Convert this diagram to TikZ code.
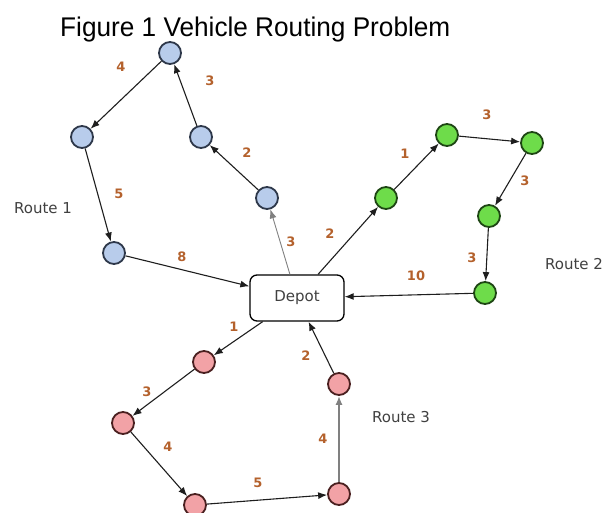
\documentclass[tikz,border=0pt]{standalone}
\usepackage{fontspec}
\setmainfont{DejaVu Sans}
\newfontfamily\titlefont{Liberation Sans}
\usepackage{tikz}
\usetikzlibrary{arrows.meta,shapes.geometric}
\tikzset{every node/.append style={align=center}}
\definecolor{bluefill}{RGB}{184, 204, 235}
\definecolor{blueline}{RGB}{46, 56, 74}
\definecolor{greenfill}{RGB}{110, 220, 74}
\definecolor{greenline}{RGB}{30, 70, 20}
\definecolor{redfill}{RGB}{242, 162, 166}
\definecolor{redline}{RGB}{74, 32, 32}
\definecolor{costcolor}{RGB}{180, 97, 44}
\definecolor{textgray}{RGB}{64, 64, 64}
\definecolor{edgecolor}{RGB}{30, 30, 30}

\begin{document}
\begin{tikzpicture}[
    x=1pt, y=-1pt,
    stop/.style={circle, draw, line width=1.8pt, minimum size=22pt, inner sep=0pt},
    bluestop/.style={stop, fill=bluefill, draw=blueline},
    greenstop/.style={stop, fill=greenfill, draw=greenline},
    redstop/.style={stop, fill=redfill, draw=redline},
    depot/.style={draw, fill=white, rounded corners=7pt, line width=1.3pt, minimum width=94pt, minimum height=46pt, font=\fontsize{15}{18}\selectfont, text=textgray},
    route/.style={-{Latex[length=9pt, width=7pt]}, line width=1.1pt, draw=edgecolor},
    cost/.style={font=\bfseries\fontsize{13}{15}\selectfont, text=costcolor, inner sep=0pt},
    routename/.style={font=\fontsize{15}{18}\selectfont, text=textgray, inner sep=0pt}
]
    \useasboundingbox (0, 0) rectangle (603, 513);

    % Title
    \node[anchor=base west, inner sep=0pt, font=\titlefont\fontsize{27}{30}\selectfont] (title) at (60, 37) {\scalebox{0.97}[1]{Figure 1 Vehicle Routing Problem}};

    % Depot
    \node[depot] (depot) at (297, 298) {Depot};

    % Route 1 stops
    \node[bluestop] (b1) at (170, 53) {};
    \node[bluestop] (b2) at (82, 137) {};
    \node[bluestop] (b3) at (114, 253) {};
    \node[bluestop] (b4) at (201, 137) {};
    \node[bluestop] (b5) at (267, 198) {};

    % Route 2 stops
    \node[greenstop] (g1) at (386, 198) {};
    \node[greenstop] (g2) at (447, 135) {};
    \node[greenstop] (g3) at (532, 143) {};
    \node[greenstop] (g4) at (489, 216) {};
    \node[greenstop] (g5) at (485, 293) {};

    % Route 3 stops
    \node[redstop] (r1) at (204, 362) {};
    \node[redstop] (r2) at (123, 423) {};
    \node[redstop] (r3) at (195, 505) {};
    \node[redstop] (r4) at (339, 494) {};
    \node[redstop] (r5) at (339, 384) {};

    % Route names
    \node[routename] (route1) at (43, 208) {Route 1};
    \node[routename] (route2) at (574, 264) {Route 2};
    \node[routename] (route3) at (401, 417) {Route 3};

    % Route 1
    \draw[route, draw=gray, line width=0.9pt] (depot) -- (b5);
    \draw[route] (b5) -- (b4);
    \draw[route] (b4) -- (b1);
    \draw[route] (b1) -- (b2);
    \draw[route] (b2) -- (b3);
    \draw[route] (b3) -- (depot);
    \node[cost] (c13) at (291, 242) {3};
    \node[cost] (c12) at (247, 153) {2};
    \node[cost] (c11) at (210, 81) {3};
    \node[cost] (c14) at (121, 67) {4};
    \node[cost] (c15) at (119, 194) {5};
    \node[cost] (c18) at (182, 257) {8};

    % Route 2
    \draw[route] (depot) -- (g1);
    \draw[route] (g1) -- (g2);
    \draw[route] (g2) -- (g3);
    \draw[route] (g3) -- (g4);
    \draw[route] (g4) -- (g5);
    \draw[route] (g5) -- (depot);
    \node[cost] (c22) at (330, 234) {2};
    \node[cost] (c21) at (405, 154) {1};
    \node[cost] (c23a) at (487, 115) {3};
    \node[cost] (c23b) at (525, 181) {3};
    \node[cost] (c23c) at (472, 258) {3};
    \node[cost] (c210) at (416, 276) {10};

    % Route 3
    \draw[route] (depot) -- (r1);
    \draw[route] (r1) -- (r2);
    \draw[route] (r2) -- (r3);
    \draw[route] (r3) -- (r4);
    \draw[route, draw=gray, line width=1.6pt] (r4) -- (r5);
    \draw[route] (r5) -- (depot);
    \node[cost] (c31) at (234, 327) {1};
    \node[cost] (c33) at (147, 392) {3};
    \node[cost] (c34a) at (168, 447) {4};
    \node[cost] (c35) at (258, 483) {5};
    \node[cost] (c34b) at (323, 439) {4};
    \node[cost] (c32) at (306, 356) {2};
\end{tikzpicture}
\end{document}
